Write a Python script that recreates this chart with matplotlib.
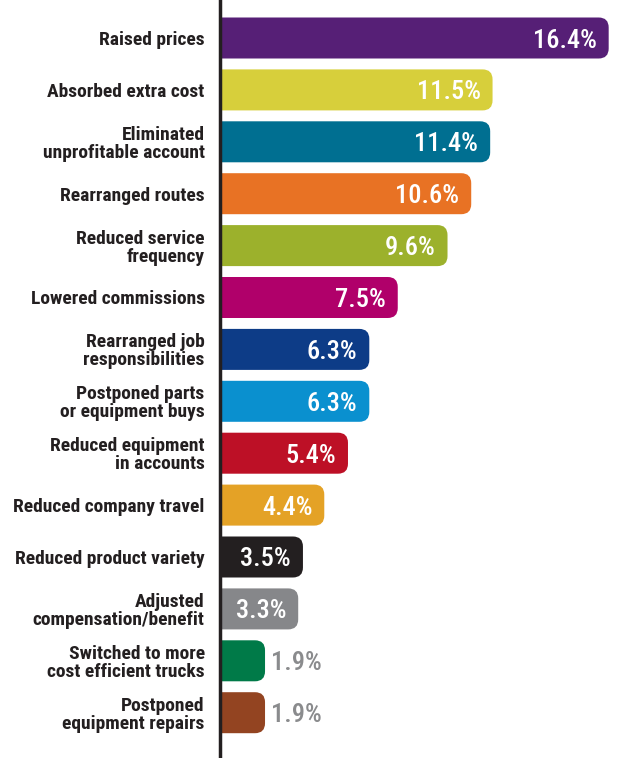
import matplotlib
matplotlib.use("Agg")
import matplotlib.pyplot as plt
from matplotlib import font_manager
from matplotlib.patches import FancyBboxPatch

# datos
labels = [
    "Raised prices",
    "Absorbed extra cost",
    "Eliminated\nunprofitable account",
    "Rearranged routes",
    "Reduced service\nfrequency",
    "Lowered commissions",
    "Rearranged job\nresponsibilities",
    "Postponed parts\nor equipment buys",
    "Reduced equipment\nin accounts",
    "Reduced company travel",
    "Reduced product variety",
    "Adjusted\ncompensation/benefit",
    "Switched to more\ncost efficient trucks",
    "Postponed\nequipment repairs",
]
values = [16.4, 11.5, 11.4, 10.6, 9.6, 7.5, 6.3, 6.3, 5.4, 4.4, 3.5, 3.3, 1.9, 1.9]
colors = ["#561f76", "#d7cf3b", "#006f91", "#e87224", "#9cb12c", "#b0006a",
          "#0d3c87", "#0a90cf", "#bd1026", "#e4a226", "#231f20", "#86878a",
          "#007a48", "#934421"]
inside = [True] * 12 + [False, False]

# fuente condensada si existe
available = {f.name for f in font_manager.fontManager.ttflist}
family = "DejaVu Sans"
for cand in ["Roboto Condensed", "Liberation Sans Narrow", "DejaVu Sans"]:
    if cand in available:
        family = cand
        break
plt.rcParams["font.family"] = family

W, H = 623, 758
fig = plt.figure(figsize=(W / 100, H / 100), dpi=100)
ax = fig.add_axes([220 / W, 0, (W - 220) / W, 1])

px_per_x = 23.7
pitch = 51.9
ax.set_xlim(0, (W - 220) / px_per_x)
ax.set_ylim((H - 38) / pitch, -38 / pitch)

bars = ax.barh(range(len(values)), values, height=0.79, color="none")

r_x = 10 / px_per_x
r_y = 10 / pitch
for bar, c in zip(bars, colors):
    x0, y0 = bar.get_x(), bar.get_y()
    w, h = bar.get_width(), bar.get_height()
    box = FancyBboxPatch((x0 - 1, y0), w + 1, h,
                         boxstyle=f"round,pad=0,rounding_size={r_x}",
                         mutation_aspect=r_y / r_x,
                         facecolor=c, edgecolor="none")
    ax.add_patch(box)

for i, (v, ins) in enumerate(zip(values, inside)):
    if ins:
        ax.text(v - 12 / px_per_x, i, f"{v}%", ha="right", va="center_baseline",
                color="white", fontsize=19, fontweight="medium")
    else:
        ax.text(v + 6 / px_per_x, i, f"{v}%", ha="left", va="center_baseline",
                color="#8a8b8d", fontsize=19, fontweight="medium")

ax.set_yticks(range(len(labels)))
ax.set_yticklabels(labels, fontsize=14, fontweight="bold", color="#231f20",
                   linespacing=1.0)
ax.tick_params(axis="y", length=0, pad=11)
ax.set_xticks([])
for s in ["top", "right", "bottom"]:
    ax.spines[s].set_visible(False)
ax.spines["left"].set_linewidth(2.5)
ax.spines["left"].set_color("#231f20")

fig.savefig("out.png", dpi=100, facecolor="white")
